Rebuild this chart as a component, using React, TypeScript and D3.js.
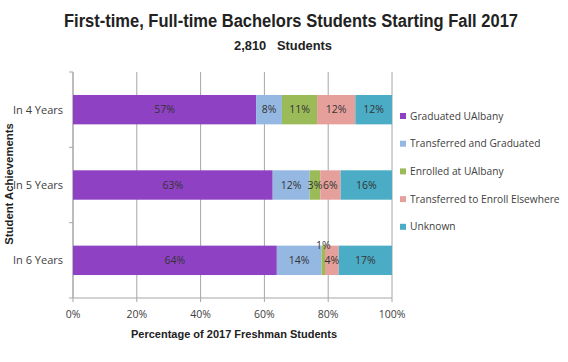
import React from 'react';
import * as d3 from 'd3';

const categories = ['In 4 Years', 'In 5 Years', 'In 6 Years'];
const seriesNames = [
  'Graduated UAlbany',
  'Transferred and Graduated',
  'Enrolled at UAlbany',
  'Transferred to Enroll Elsewhere',
  'Unknown',
];
const colors = ['#8E42C3', '#95B8E3', '#9BBB59', '#E6A09C', '#4BACC6'];
// percentages per category, in series order
const graduated = [57.4, 62.6, 63.9];
const transferredGrad = [8.1, 11.6, 14.0];
const enrolled = [11.0, 3.3, 1.1];
const transferredEnroll = [12.0, 6.4, 4.3];
const unknown = [11.5, 16.1, 16.7];
const xTicks = [0, 20, 40, 60, 80, 100];

const W = 568;
const H = 362;
const left = 73;
const right = 392;
const top = 72;
const bottom = 298;

export default function App() {
  const x = d3.scaleLinear().domain([0, 100]).range([left, right]);
  const y = d3.scaleBand().domain(categories).range([top, bottom]).paddingInner(0.61).paddingOuter(0.305);

  const rows = categories.map((c, i) => ({
    cat: c,
    graduated: graduated[i],
    transferredGrad: transferredGrad[i],
    enrolled: enrolled[i],
    transferredEnroll: transferredEnroll[i],
    unknown: unknown[i],
  }));
  const keys = ['graduated', 'transferredGrad', 'enrolled', 'transferredEnroll', 'unknown'];
  const stacked = d3.stack<any>().keys(keys)(rows);

  const labelFont = '"Open Sans", "Liberation Sans", sans-serif';
  const boldFont = '"Liberation Sans", Arial, sans-serif';
  const bandStep = y.step();

  return (
    <svg width={W} height={H} style={{ position: 'absolute', left: 0, top: 0, background: '#fff' }}>
      <text x={64} y={27} textLength={454} lengthAdjust="spacingAndGlyphs" fontFamily={boldFont} fontWeight="bold" fontSize={18} fill="#222">
        First-time, Full-time Bachelors Students Starting Fall 2017
      </text>
      <text x={234} y={50} textLength={98} lengthAdjust="spacingAndGlyphs" fontFamily={boldFont} fontWeight="bold" fontSize={12.5} fill="#222">
        2,810{'\u00a0\u00a0\u00a0'}Students
      </text>

      {/* grid lines */}
      {xTicks.map((t) => (
        <line key={t} x1={x(t)} x2={x(t)} y1={top} y2={bottom + 4} stroke="#A6A6A6" strokeWidth={1} />
      ))}
      {/* y axis + ticks */}
      <line x1={left} x2={left} y1={top} y2={bottom} stroke="#A6A6A6" />
      <line x1={left} x2={right} y1={bottom} y2={bottom} stroke="#A6A6A6" />
      {[0, 1, 2, 3].map((i) => (
        <line key={i} x1={left - 4} x2={left} y1={top + i * bandStep} y2={top + i * bandStep} stroke="#A6A6A6" />
      ))}

      {/* bars */}
      {stacked.map((s, si) => (
        <g key={s.key} fill={colors[si]}>
          {s.map((d, di) => (
            <rect key={di} x={x(d[0])} y={y(categories[di])} width={x(d[1]) - x(d[0])} height={y.bandwidth()} />
          ))}
        </g>
      ))}
      {/* value labels */}
      {stacked.map((s) =>
        s.map((d, di) => {
          const v = d[1] - d[0];
          const small = v < 2;
          const cy = (y(categories[di]) as number) + y.bandwidth() / 2;
          return (
            <text
              key={s.key + di}
              x={(x(d[0]) + x(d[1])) / 2}
              y={small ? cy - 15 : cy}
              dy="0.35em"
              textAnchor="middle"
              fontFamily={labelFont}
              fontSize={10.5}
              fill="#333"
            >
              {Math.round(v)}%
            </text>
          );
        })
      )}

      {/* category labels */}
      {categories.map((c) => (
        <text key={c} x={63} y={(y(c) as number) + y.bandwidth() / 2} dy="0.35em" textAnchor="end" fontFamily={labelFont} fontSize={11} fill="#404040">
          {c}
        </text>
      ))}
      {/* x tick labels */}
      {xTicks.map((t) => (
        <text key={t} x={x(t)} y={318} textAnchor="middle" fontFamily={labelFont} fontSize={10.5} fill="#404040">
          {t}%
        </text>
      ))}

      <text x={234} y={338} textAnchor="middle" fontFamily={boldFont} fontWeight="bold" fontSize={11} fill="#222">
        Percentage of 2017 Freshman Students
      </text>
      <text transform={`translate(13,184) rotate(-90)`} textAnchor="middle" fontFamily={boldFont} fontWeight="bold" fontSize={11.3} fill="#222">
        Student Achievements
      </text>

      {/* legend */}
      {seriesNames.map((n, i) => (
        <g key={n} transform={`translate(400,${116 + i * 27.7})`}>
          <rect x={0} y={-3} width={6} height={6} fill={colors[i]} />
          <text x={10} y={0} dy="0.35em" fontFamily={labelFont} fontSize={10.2} fill="#404040">
            {n}
          </text>
        </g>
      ))}
    </svg>
  );
}
